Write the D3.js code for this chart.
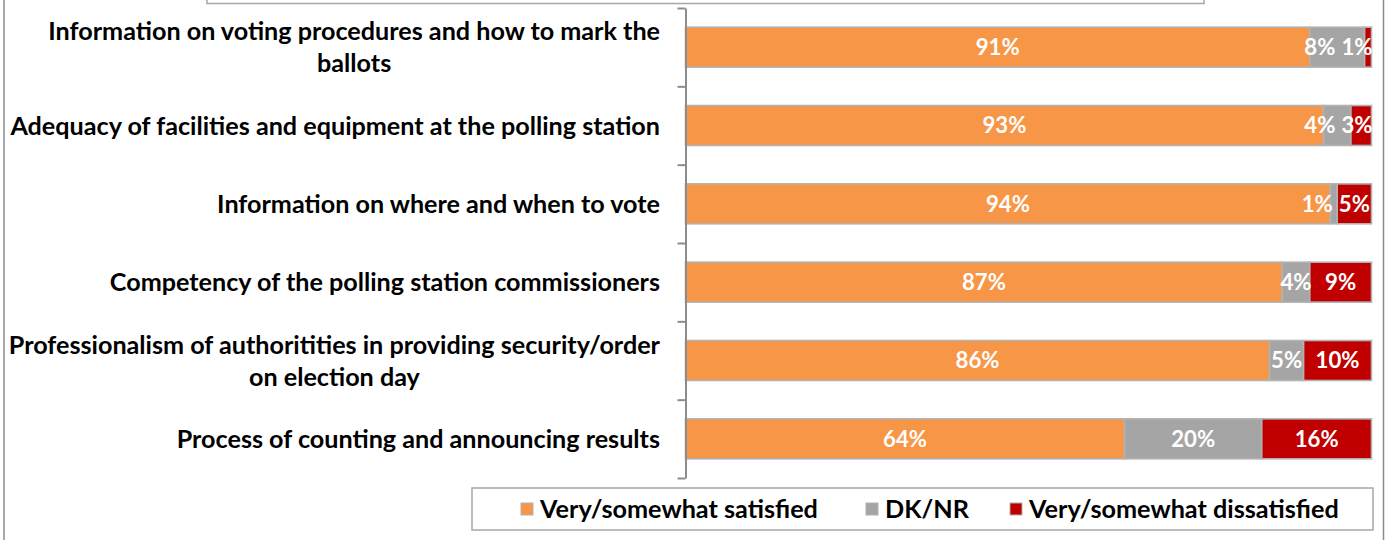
<!DOCTYPE html>
<html>
<head>
<meta charset="utf-8">
<script src="https://cdn.jsdelivr.net/npm/d3@7"></script>
<style>
  html, body { margin: 0; padding: 0; background: #fff; }
  svg { display: block; }
  text { font-family: Lato, "Open Sans", sans-serif; font-weight: 700; }
</style>
</head>
<body>
<svg id="chart" width="1391" height="540"></svg>
<script>
// Categories (each entry is a list of wrapped lines)
const categories = [
  ["Information on voting procedures and how to mark the", "ballots"],
  ["Adequacy of facilities and equipment at the polling station"],
  ["Information on where and when to vote"],
  ["Competency of the polling station commissioners"],
  ["Professionalism of authoritities in providing security/order", "on election day"],
  ["Process of counting and announcing results"]
];
// Series values, in percent
const satisfied    = [91, 93, 94, 87, 86, 64];
const dkNr         = [8, 4, 1, 4, 5, 20];
const dissatisfied = [1, 3, 5, 9, 10, 16];
const seriesNames  = ["Very/somewhat satisfied", "DK/NR", "Very/somewhat dissatisfied"];
const seriesColors = ["#F79646", "#A5A5A5", "#C00000"];

const keys = ["sat", "dk", "dis"];
const rows = categories.map((c, i) => ({ idx: i, sat: satisfied[i], dk: dkNr[i], dis: dissatisfied[i] }));

const svg = d3.select("#chart");

// outer frame edges and the box above the plot
svg.append("line").attr("x1", 4).attr("x2", 4).attr("y1", 0).attr("y2", 540)
  .attr("stroke", "#8C8C8C").attr("stroke-width", 1.5);
svg.append("line").attr("x1", 1383.5).attr("x2", 1383.5).attr("y1", 0).attr("y2", 540)
  .attr("stroke", "#8C8C8C").attr("stroke-width", 1.5);
svg.append("rect").attr("x", 207).attr("y", -20).attr("width", 997).attr("height", 23.5)
  .attr("fill", "#fff").attr("stroke", "#A6A6A6").attr("stroke-width", 1.5);

const plot = { left: 685.5, right: 1371.5, top: 8, bottom: 478 };

const x = d3.scaleLinear().domain([0, 1]).range([plot.left, plot.right]);
const y = d3.scaleBand().domain(d3.range(categories.length))
  .range([plot.top, plot.bottom]).paddingInner(0.49).paddingOuter(0.245);
const yEdge = d3.scaleLinear().domain([0, categories.length]).range([plot.top, plot.bottom]);

// 100% stacked layout
const stack = d3.stack().keys(keys).offset(d3.stackOffsetExpand);
const layers = stack(rows);

const g = svg.append("g");
layers.forEach((layer, li) => {
  g.selectAll(null).data(layer).enter().append("rect")
    .attr("x", d => x(d[0]))
    .attr("y", (d, i) => y(i))
    .attr("width", d => x(d[1]) - x(d[0]))
    .attr("height", y.bandwidth())
    .attr("fill", seriesColors[li])
    .attr("stroke", "#B2B2B2")
    .attr("stroke-width", 1.6);
});

// category axis with ticks at band edges
const axis = d3.axisLeft(yEdge).tickValues(d3.range(categories.length + 1))
  .tickFormat("").tickSize(8).tickSizeOuter(0);
const axG = svg.append("g").attr("transform", `translate(${plot.left},0)`).call(axis);
axG.select(".domain").attr("stroke", "#8C8C8C").attr("stroke-width", 2);
axG.selectAll(".tick line").attr("stroke", "#8C8C8C").attr("stroke-width", 2);

// fit a font size so a sample string reaches a target width
function fitSize(sample, target, base) {
  const t = svg.append("text").attr("font-size", base).text(sample);
  const w = t.node().getComputedTextLength();
  t.remove();
  return base * target / w;
}

const catSize = fitSize(categories[1][0], 650, 22);
const labelRight = 660;
const lineGap = 32;

categories.forEach((lines, i) => {
  const cy = y(i) + y.bandwidth() / 2;
  const tg = svg.append("g");
  const widths = lines.map(l => {
    const t = tg.append("text").attr("font-size", catSize).text(l);
    const w = t.node().getComputedTextLength();
    t.remove();
    return w;
  });
  const maxW = d3.max(widths);
  const cx = labelRight - maxW / 2;
  lines.forEach((l, k) => {
    const off = (k - (lines.length - 1) / 2) * lineGap;
    tg.append("text")
      .attr("x", cx).attr("y", cy + off)
      .attr("text-anchor", "middle")
      .attr("dy", "0.36em")
      .attr("font-size", catSize)
      .attr("fill", "#000")
      .text(l);
  });
});

// value labels, kept inside the bar and spread apart where they collide
const valSize = fitSize("10%", 44, 22);
const gap = 6;
rows.forEach((r, i) => {
  const cy = y(i) + y.bandwidth() / 2;
  const items = layers.map((layer, li) => {
    const d = layer[i];
    const t = svg.append("text").attr("font-size", valSize).text(r[keys[li]] + "%");
    const w = t.node().getComputedTextLength();
    t.remove();
    return { text: r[keys[li]] + "%", cx: (x(d[0]) + x(d[1])) / 2, w };
  });
  // right to left: clamp to bar end, then push left to avoid overlap
  let limit = plot.right + 1;
  for (let k = items.length - 1; k >= 0; k--) {
    const it = items[k];
    if (it.cx + it.w / 2 > limit) it.cx = limit - it.w / 2;
    limit = it.cx - it.w / 2 - gap;
  }
  items.forEach(it => {
    svg.append("text")
      .attr("x", it.cx).attr("y", cy)
      .attr("dy", "0.36em")
      .attr("text-anchor", "middle")
      .attr("font-size", valSize)
      .attr("fill", "#fff")
      .text(it.text);
  });
});

// legend
const legSize = fitSize(seriesNames[0], 278, 22);
const leg = svg.append("g");
leg.append("rect").attr("x", 472).attr("y", 488).attr("width", 901).attr("height", 42)
  .attr("fill", "#fff").attr("stroke", "#A6A6A6").attr("stroke-width", 1.5);
const legX = [521, 866, 1010];
seriesNames.forEach((name, i) => {
  leg.append("rect").attr("x", legX[i]).attr("y", 503).attr("width", 12).attr("height", 12)
    .attr("fill", seriesColors[i]).attr("stroke", "#B2B2B2").attr("stroke-width", 1);
  leg.append("text").attr("x", legX[i] + 19).attr("y", 509).attr("dy", "0.36em")
    .attr("font-size", legSize).attr("fill", "#000").text(name);
});
</script>
</body>
</html>
